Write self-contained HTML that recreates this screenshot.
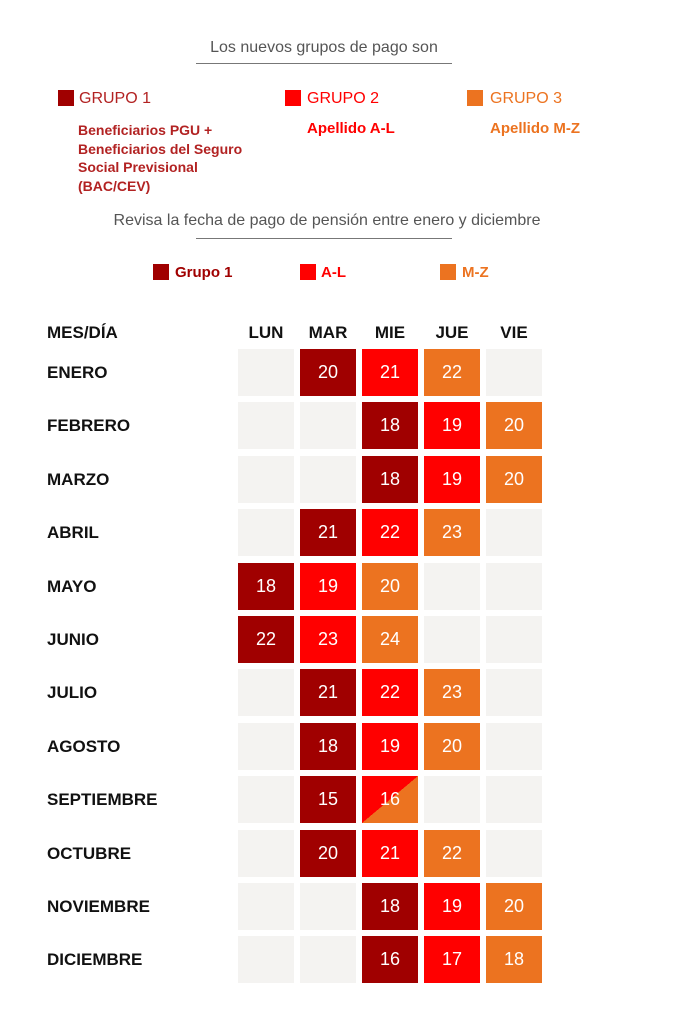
<!DOCTYPE html>
<html><head><meta charset="utf-8"><style>
body{margin:0;width:683px;height:1024px;background:#fff;font-family:"Liberation Sans",Roboto,sans-serif;position:relative;overflow:hidden}
.a{position:absolute;white-space:nowrap}
.c{position:absolute;width:56px;height:47px;color:#fff;font-size:18px;line-height:47px;text-align:center}
.e{background:#f4f3f1}.d{background:#a00000}.r{background:#ff0000}.o{background:#ec7320}
.s{background:linear-gradient(to bottom right,#ff0000 50%,#ec7320 50%)}
.m{position:absolute;left:47px;font-size:17px;font-weight:bold;color:#111;line-height:47px}
.h{position:absolute;top:323px;font-size:17px;font-weight:bold;color:#111;width:56px;text-align:center}
.sq{position:absolute;width:16px;height:16px}
</style></head><body>
<div class="a" style="left:170px;width:308px;top:39px;text-align:center;font-size:16px;color:#555">Los nuevos grupos de pago son</div>
<div class="a" style="left:196px;width:256px;top:63px;height:1px;background:#777"></div>

<div class="sq d" style="left:58px;top:90px"></div><div class="a" style="left:79px;top:90px;font-size:16px;color:#b22222">GRUPO 1</div>
<div class="sq r" style="left:285px;top:90px"></div><div class="a" style="left:307px;top:90px;font-size:16px;color:#ff0000">GRUPO 2</div>
<div class="sq o" style="left:467px;top:90px"></div><div class="a" style="left:490px;top:90px;font-size:16px;color:#ec7320">GRUPO 3</div>

<div class="a" style="left:78px;top:121px;font-size:14px;font-weight:bold;color:#b22222;line-height:18.5px">Beneficiarios PGU +<br>Beneficiarios del Seguro<br>Social Previsional<br>(BAC/CEV)</div>
<div class="a" style="left:307px;top:120px;font-size:15px;font-weight:bold;color:#ff0000">Apellido A-L</div>
<div class="a" style="left:490px;top:120px;font-size:15px;font-weight:bold;color:#ec7320">Apellido M-Z</div>

<div class="a" style="left:90px;width:474px;top:212px;text-align:center;font-size:16px;color:#555">Revisa la fecha de pago de pensión entre enero y diciembre</div>
<div class="a" style="left:196px;width:256px;top:238px;height:1px;background:#777"></div>

<div class="sq d" style="left:153px;top:264px"></div><div class="a" style="left:175px;top:264px;font-size:15px;font-weight:bold;color:#a00000">Grupo 1</div>
<div class="sq r" style="left:300px;top:264px"></div><div class="a" style="left:321px;top:264px;font-size:15px;font-weight:bold;color:#ff0000">A-L</div>
<div class="sq o" style="left:440px;top:264px"></div><div class="a" style="left:462px;top:264px;font-size:15px;font-weight:bold;color:#ec7320">M-Z</div>

<div class="a" style="left:47px;top:323px;font-size:17px;font-weight:bold;color:#111">MES/DÍA</div>
<div class="h" style="left:238px">LUN</div><div class="h" style="left:300px">MAR</div><div class="h" style="left:362px">MIE</div><div class="h" style="left:424px">JUE</div><div class="h" style="left:486px">VIE</div>

<div class="m" style="top:349px">ENERO</div>
<div class="c e" style="left:238px;top:349px"></div><div class="c d" style="left:300px;top:349px">20</div><div class="c r" style="left:362px;top:349px">21</div><div class="c o" style="left:424px;top:349px">22</div><div class="c e" style="left:486px;top:349px"></div>

<div class="m" style="top:402px">FEBRERO</div>
<div class="c e" style="left:238px;top:402px"></div><div class="c e" style="left:300px;top:402px"></div><div class="c d" style="left:362px;top:402px">18</div><div class="c r" style="left:424px;top:402px">19</div><div class="c o" style="left:486px;top:402px">20</div>

<div class="m" style="top:456px">MARZO</div>
<div class="c e" style="left:238px;top:456px"></div><div class="c e" style="left:300px;top:456px"></div><div class="c d" style="left:362px;top:456px">18</div><div class="c r" style="left:424px;top:456px">19</div><div class="c o" style="left:486px;top:456px">20</div>

<div class="m" style="top:509px">ABRIL</div>
<div class="c e" style="left:238px;top:509px"></div><div class="c d" style="left:300px;top:509px">21</div><div class="c r" style="left:362px;top:509px">22</div><div class="c o" style="left:424px;top:509px">23</div><div class="c e" style="left:486px;top:509px"></div>

<div class="m" style="top:563px">MAYO</div>
<div class="c d" style="left:238px;top:563px">18</div><div class="c r" style="left:300px;top:563px">19</div><div class="c o" style="left:362px;top:563px">20</div><div class="c e" style="left:424px;top:563px"></div><div class="c e" style="left:486px;top:563px"></div>

<div class="m" style="top:616px">JUNIO</div>
<div class="c d" style="left:238px;top:616px">22</div><div class="c r" style="left:300px;top:616px">23</div><div class="c o" style="left:362px;top:616px">24</div><div class="c e" style="left:424px;top:616px"></div><div class="c e" style="left:486px;top:616px"></div>

<div class="m" style="top:669px">JULIO</div>
<div class="c e" style="left:238px;top:669px"></div><div class="c d" style="left:300px;top:669px">21</div><div class="c r" style="left:362px;top:669px">22</div><div class="c o" style="left:424px;top:669px">23</div><div class="c e" style="left:486px;top:669px"></div>

<div class="m" style="top:723px">AGOSTO</div>
<div class="c e" style="left:238px;top:723px"></div><div class="c d" style="left:300px;top:723px">18</div><div class="c r" style="left:362px;top:723px">19</div><div class="c o" style="left:424px;top:723px">20</div><div class="c e" style="left:486px;top:723px"></div>

<div class="m" style="top:776px">SEPTIEMBRE</div>
<div class="c e" style="left:238px;top:776px"></div><div class="c d" style="left:300px;top:776px">15</div><div class="c s" style="left:362px;top:776px">16</div><div class="c e" style="left:424px;top:776px"></div><div class="c e" style="left:486px;top:776px"></div>

<div class="m" style="top:830px">OCTUBRE</div>
<div class="c e" style="left:238px;top:830px"></div><div class="c d" style="left:300px;top:830px">20</div><div class="c r" style="left:362px;top:830px">21</div><div class="c o" style="left:424px;top:830px">22</div><div class="c e" style="left:486px;top:830px"></div>

<div class="m" style="top:883px">NOVIEMBRE</div>
<div class="c e" style="left:238px;top:883px"></div><div class="c e" style="left:300px;top:883px"></div><div class="c d" style="left:362px;top:883px">18</div><div class="c r" style="left:424px;top:883px">19</div><div class="c o" style="left:486px;top:883px">20</div>

<div class="m" style="top:936px">DICIEMBRE</div>
<div class="c e" style="left:238px;top:936px"></div><div class="c e" style="left:300px;top:936px"></div><div class="c d" style="left:362px;top:936px">16</div><div class="c r" style="left:424px;top:936px">17</div><div class="c o" style="left:486px;top:936px">18</div>
</body></html>
